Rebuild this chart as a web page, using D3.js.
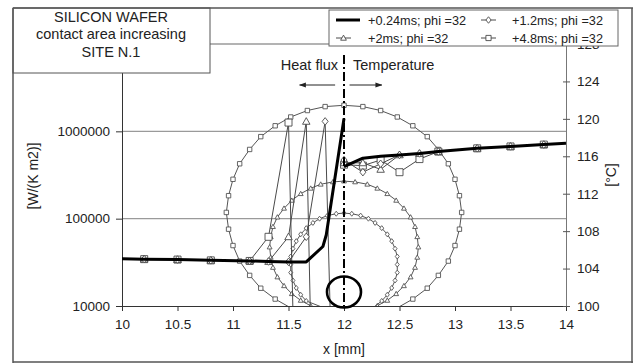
<!DOCTYPE html>
<html>
<head>
<meta charset="utf-8">
<script src="https://cdn.jsdelivr.net/npm/d3@7"></script>
<style>
  html, body { margin: 0; padding: 0; background: #fff; }
  svg { display: block; }
  svg text { font-family: "Liberation Sans", Arial, sans-serif; }
</style>
</head>
<body>
<svg id="chart" width="633" height="363"></svg>
<script>
// ——— Axis ticks ———
const xTicks = [10, 10.5, 11, 11.5, 12, 12.5, 13, 13.5, 14];
const fluxTicks = [1e4, 1e5, 1e6, 1e7];
const tempTicks = [100, 104, 108, 112, 116, 120, 124, 128];

// ——— Heat flux, left log axis [W/(K m2)] : [x mm, value] ———
const flux024 = [[10, 34700], [10.2, 34400], [10.5, 34000], [10.8, 33300], [11.15, 32800],
  [11.32, 32300], [11.5, 32000], [11.66, 32000], [11.81, 48000], [11.84, 65000], [12, 1400000]];
const flux12 = [[10.2, 34400], [10.5, 34000], [10.8, 33300], [11.15, 32800], [11.32, 32300],
  [11.5, 32000], [11.66, 62000], [11.83, 1300000], [12, 0.01]];
const flux2 = [[10.2, 34400], [10.5, 34000], [10.8, 33300], [11.15, 32800], [11.32, 32300],
  [11.5, 62000], [11.66, 1300000], [11.83, 0.0001]];
const flux48 = [[10.2, 34400], [10.5, 34000], [10.8, 33300], [11.15, 32800], [11.32, 62000],
  [11.5, 1260000], [11.66, 0.003]];

// ——— Temperature, right axis [°C] : [x mm, value] ———
const temp024 = [[12, 114.9], [12.17, 115.8], [12.33, 116.0], [12.5, 116.15], [12.68, 116.3],
  [12.85, 116.5], [13.2, 116.85], [13.5, 117.05], [13.8, 117.25], [14, 117.4]];
const temp12 = [[12, 115.6], [12.17, 114.3], [12.33, 115.2], [12.5, 116.15], [12.68, 116.3],
  [12.85, 116.5], [13.2, 116.85], [13.5, 117.05], [13.8, 117.25]];
const temp2 = [[12, 115.3], [12.17, 115.3], [12.33, 114.6], [12.5, 116.15], [12.68, 116.3],
  [12.85, 116.5], [13.2, 116.85], [13.5, 117.05], [13.8, 117.25]];
const temp48 = [[12, 115.1], [12.17, 115.0], [12.33, 115.6], [12.5, 114.3], [12.68, 115.7],
  [12.85, 116.5], [13.2, 116.85], [13.5, 117.05], [13.8, 117.25]];

// ——— Contact rings, right axis : [x mm, °C] ———
const ring12 = [[11.72, 99.53], [11.78, 99.98], [11.66, 100.54], [11.61, 101.2], [11.57, 101.93],
  [11.54, 102.73], [11.52, 103.57], [11.52, 104.43], [11.52, 105.29], [11.54, 106.13], [11.57, 106.93],
  [11.61, 107.66], [11.66, 108.32], [11.72, 108.88], [11.78, 109.33], [11.85, 109.66], [11.93, 109.86],
  [12, 109.93], [12.07, 109.86], [12.15, 109.66], [12.22, 109.33], [12.28, 108.88], [12.34, 108.32],
  [12.39, 107.66], [12.43, 106.93], [12.46, 106.13], [12.48, 105.29], [12.48, 104.43], [12.48, 103.57],
  [12.46, 102.73], [12.43, 101.93], [12.39, 101.2], [12.34, 100.54], [12.28, 99.98], [12.22, 99.53]];
const ring2 = [[11.79, 99.6], [11.7, 100.02], [11.61, 100.6], [11.53, 101.31], [11.46, 102.16],
  [11.4, 103.1], [11.36, 104.12], [11.34, 105.2], [11.33, 106.3], [11.34, 107.4], [11.36, 108.48],
  [11.4, 109.5], [11.46, 110.44], [11.53, 111.29], [11.61, 112.0], [11.7, 112.58], [11.79, 113.01],
  [11.9, 113.26], [12, 113.35], [12.1, 113.26], [12.21, 113.01], [12.3, 112.58], [12.39, 112.0],
  [12.47, 111.29], [12.54, 110.44], [12.6, 109.5], [12.64, 108.48], [12.66, 107.4], [12.67, 106.3],
  [12.66, 105.2], [12.64, 104.12], [12.6, 103.1], [12.54, 102.16], [12.47, 101.31], [12.39, 100.6],
  [12.3, 100.02], [12.21, 99.6]];
const ring48 = [[11.52, 99.8], [11.38, 100.74], [11.25, 101.9], [11.15, 103.27], [11.06, 104.8],
  [11.0, 106.46], [10.96, 108.21], [10.94, 110.0], [10.96, 111.79], [11.0, 113.54], [11.06, 115.2],
  [11.15, 116.73], [11.25, 118.1], [11.38, 119.26], [11.52, 120.2], [11.67, 120.89], [11.83, 121.31],
  [12, 121.45], [12.17, 121.31], [12.33, 120.89], [12.48, 120.2], [12.62, 119.26], [12.75, 118.1],
  [12.85, 116.73], [12.94, 115.2], [13.0, 113.54], [13.04, 111.79], [13.06, 110.0], [13.04, 108.21],
  [13.0, 106.46], [12.94, 104.8], [12.85, 103.27], [12.75, 101.9], [12.62, 100.74], [12.48, 99.8]];

const legendItems = [
  { label: '+0.24ms; phi =32', marker: null },
  { label: '+1.2ms; phi =32', marker: 'diamond' },
  { label: '+2ms; phi =32', marker: 'triangle' },
  { label: '+4.8ms; phi =32', marker: 'square' }
];

// ——— Layout ———
const W = 633, H = 363;
const plot = { left: 122, right: 566, top: 44, bottom: 306 };
const ink = '#222', thin = '#4a4a4a', grid = '#9a9a9a';
const FONT = '"Liberation Sans", Arial, sans-serif';

const svg = d3.select('#chart');

const x = d3.scaleLinear().domain([10, 14]).range([plot.left, plot.right]);
const yF = d3.scaleLog().domain([1e4, 1e7]).range([plot.bottom, plot.top]);
const yT = d3.scaleLinear().domain([100, 128]).range([plot.bottom, plot.top]);

// marker shapes (open)
function markerPath(type, s) {
  if (type === 'square') return `M${-s},${-s}h${2 * s}v${2 * s}h${-2 * s}Z`;
  if (type === 'triangle') return `M0,${-s * 1.1}L${s * 1.1},${s * 0.85}L${-s * 1.1},${s * 0.85}Z`;
  return `M0,${-s * 1.25}L${s},0L0,${s * 1.25}L${-s},0Z`;
}

const defs = svg.append('defs');
defs.append('clipPath').attr('id', 'plotClip')
  .append('rect')
  .attr('x', plot.left).attr('y', plot.top)
  .attr('width', plot.right - plot.left).attr('height', plot.bottom - plot.top);

defs.append('marker')
  .attr('id', 'arrow').attr('viewBox', '0 0 10 10')
  .attr('refX', 9).attr('refY', 5)
  .attr('markerWidth', 7).attr('markerHeight', 7)
  .attr('orient', 'auto')
  .append('path').attr('d', 'M0,1.5L10,5L0,8.5Z').attr('fill', ink);

// ——— Gridlines ———
svg.append('g')
  .selectAll('line')
  .data([1e5, 1e6, 1e7])
  .join('line')
  .attr('x1', plot.left).attr('x2', plot.right)
  .attr('y1', d => yF(d)).attr('y2', d => yF(d))
  .attr('stroke', grid).attr('stroke-width', 1.3);

// ——— Axes ———
const xAxis = svg.append('g')
  .attr('transform', `translate(0,${plot.bottom})`)
  .call(d3.axisBottom(x).tickValues(xTicks).tickSize(5).tickSizeOuter(0).tickPadding(8)
    .tickFormat(d => String(d)));

// top label (1e7) sits under the title box in the original, so it is left blank
const leftAxis = svg.append('g')
  .attr('transform', `translate(${plot.left},0)`)
  .call(d3.axisLeft(yF).tickValues(fluxTicks).tickSize(6).tickSizeOuter(0).tickPadding(6)
    .tickFormat(d => d >= 1e7 ? '' : d3.format('d')(d)));

const rightAxis = svg.append('g')
  .attr('transform', `translate(${plot.right},0)`)
  .call(d3.axisRight(yT).tickValues(tempTicks).tickSize(4).tickSizeOuter(0).tickPadding(7));
rightAxis.selectAll('.tick line').attr('x1', -3);

[xAxis, leftAxis, rightAxis].forEach(a => {
  a.attr('font-family', FONT);
  a.selectAll('text').attr('font-size', 13.5).attr('fill', ink).attr('font-family', FONT);
  a.selectAll('line').attr('stroke', '#333');
  a.select('.domain').attr('stroke', '#333');
});
rightAxis.select('.domain').attr('stroke', '#777');
rightAxis.selectAll('.tick line').attr('stroke', '#555');

// ——— Axis titles ———
svg.append('text')
  .attr('transform', 'translate(38,176) rotate(-90)')
  .attr('text-anchor', 'middle').attr('font-size', 14).attr('fill', ink)
  .text('[W/(K m2)]');
svg.append('text')
  .attr('transform', 'translate(616,175) rotate(-90)')
  .attr('text-anchor', 'middle').attr('font-size', 14).attr('fill', ink)
  .text('[°C]');
svg.append('text')
  .attr('x', x(12)).attr('y', 354)
  .attr('text-anchor', 'middle').attr('font-size', 14).attr('fill', ink)
  .text('x [mm]');

// ——— Series ———
const body = svg.append('g').attr('clip-path', 'url(#plotClip)');
const lineF = d3.line().x(d => x(d[0])).y(d => yF(d[1]));
const lineT = d3.line().x(d => x(d[0])).y(d => yT(d[1]));

function drawSeries(data, line, yScale, type, size, stroke) {
  body.append('path')
    .datum(data)
    .attr('d', line)
    .attr('fill', 'none')
    .attr('stroke', stroke)
    .attr('stroke-width', 1);
  body.append('g')
    .selectAll('path')
    .data(data.filter(d => d[1] >= yScale.domain()[0]))
    .join('path')
    .attr('transform', d => `translate(${x(d[0])},${yScale(d[1])})`)
    .attr('d', markerPath(type, size))
    .attr('fill', '#fff')
    .attr('stroke', stroke)
    .attr('stroke-width', 0.9);
}

// rings
drawSeries(ring48, lineT, yT, 'square', 2.2, '#555');
drawSeries(ring2, lineT, yT, 'triangle', 2.2, '#555');
drawSeries(ring12, lineT, yT, 'diamond', 2.0, '#555');

// heat flux / temperature, thin series
drawSeries(flux48, lineF, yF, 'square', 3.5, thin);
drawSeries(flux2, lineF, yF, 'triangle', 3.4, thin);
drawSeries(flux12, lineF, yF, 'diamond', 3.0, thin);
drawSeries(temp48, lineT, yT, 'square', 3.5, thin);
drawSeries(temp2, lineT, yT, 'triangle', 3.4, thin);
drawSeries(temp12, lineT, yT, 'diamond', 3.0, thin);

// thick series +0.24ms
body.append('path').datum(flux024).attr('d', lineF)
  .attr('fill', 'none').attr('stroke', '#000').attr('stroke-width', 3)
  .attr('stroke-linejoin', 'round');
body.append('path').datum(temp024).attr('d', lineT)
  .attr('fill', 'none').attr('stroke', '#000').attr('stroke-width', 3)
  .attr('stroke-linejoin', 'round');

// ——— Annotations ———
svg.append('line')
  .attr('x1', x(12)).attr('x2', x(12))
  .attr('y1', 55).attr('y2', plot.bottom)
  .attr('stroke', '#000').attr('stroke-width', 2)
  .attr('stroke-dasharray', '9,3,2,3');

svg.append('ellipse')
  .attr('cx', x(12)).attr('cy', yT(101.5))
  .attr('rx', 17).attr('ry', 15.5)
  .attr('fill', 'none').attr('stroke', '#000').attr('stroke-width', 2.6);

svg.append('text')
  .attr('x', 338).attr('y', 70).attr('text-anchor', 'end')
  .attr('font-size', 14.5).attr('fill', ink).text('Heat flux');
svg.append('text')
  .attr('x', 353).attr('y', 70)
  .attr('font-size', 14.5).attr('fill', ink).text('Temperature');
svg.append('line')
  .attr('x1', x(11.92)).attr('x2', x(11.6)).attr('y1', 85).attr('y2', 85)
  .attr('stroke', ink).attr('stroke-width', 1).attr('marker-end', 'url(#arrow)');
svg.append('line')
  .attr('x1', x(12.05)).attr('x2', x(12.34)).attr('y1', 85).attr('y2', 85)
  .attr('stroke', ink).attr('stroke-width', 1).attr('marker-end', 'url(#arrow)');

// ——— Title box ———
svg.append('rect')
  .attr('x', 13).attr('y', 8).attr('width', 197).attr('height', 65)
  .attr('fill', '#fff').attr('stroke', '#555').attr('stroke-width', 1);
const title = svg.append('text')
  .attr('text-anchor', 'middle').attr('font-size', 14.5).attr('fill', ink);
['SILICON WAFER', 'contact area increasing', 'SITE N.1'].forEach((t, i) => {
  title.append('tspan').attr('x', 111).attr('y', 22 + i * 17.3).text(t);
});

// ——— Legend ———
const legend = svg.append('g');
legend.append('rect')
  .attr('x', 329).attr('y', 10).attr('width', 289).attr('height', 36)
  .attr('fill', '#fff').attr('stroke', '#666').attr('stroke-width', 1);

legendItems.forEach((item, i) => {
  const col = i % 2, row = Math.floor(i / 2);
  const lx = col === 0 ? 336 : 481;
  const tx = col === 0 ? 368 : 512;
  const ly = 20 + row * 18;
  const g = legend.append('g');
  if (item.marker === null) {
    g.append('line').attr('x1', lx).attr('x2', lx + 24).attr('y1', ly).attr('y2', ly)
      .attr('stroke', '#000').attr('stroke-width', 3);
  } else {
    g.append('line').attr('x1', lx).attr('x2', lx + 15).attr('y1', ly).attr('y2', ly)
      .attr('stroke', thin).attr('stroke-width', 1);
    g.append('path').attr('transform', `translate(${lx + 7.5},${ly})`)
      .attr('d', markerPath(item.marker, 2.6))
      .attr('fill', '#fff').attr('stroke', thin).attr('stroke-width', 0.9);
  }
  g.append('text').attr('x', tx).attr('y', ly + 5)
    .attr('font-size', 12.7).attr('fill', ink).text(item.label);
});

// ——— Outer frame ———
const frame = svg.append('g').attr('stroke', '#555').attr('stroke-width', 1.5);
frame.append('line').attr('x1', 13).attr('x2', 13).attr('y1', 8).attr('y2', H);
frame.append('line').attr('x1', 13).attr('x2', W).attr('y1', 8).attr('y2', 8);
frame.append('line').attr('x1', W - 1).attr('x2', W - 1).attr('y1', 8).attr('y2', H);
frame.append('line').attr('x1', 13).attr('x2', W).attr('y1', H - 1).attr('y2', H - 1);
</script>
</body>
</html>
